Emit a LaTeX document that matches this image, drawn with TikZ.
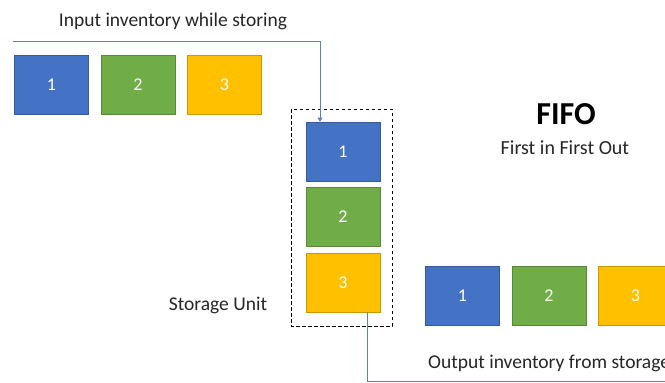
\documentclass[tikz,border=0pt]{standalone}
\usepackage{fontspec}
\setmainfont{Carlito}
\usetikzlibrary{arrows.meta}
\definecolor{boxblue}{HTML}{4472C4}
\definecolor{boxgreen}{HTML}{70AD47}
\definecolor{boxyellow}{HTML}{FFC000}
\definecolor{lineblue}{HTML}{5B7FC4}
\definecolor{txt}{HTML}{262626}
\tikzset{
  item/.style={draw=#1!80!black, fill=#1, line width=0.6pt, minimum width=74pt,
    minimum height=59pt, inner sep=0pt, text=white, font=\fontsize{18}{20}\selectfont},
  label/.style={text=txt, inner sep=0pt, font=\fontsize{19.5}{22}\selectfont},
  flow/.style={draw=lineblue, line width=0.6pt},
}
\begin{document}
\begin{tikzpicture}[x=1pt,y=-1pt]
\useasboundingbox (0,0) rectangle (665,383);
\clip (0,0) rectangle (665,383);
% incoming row
\node[item=boxblue]   (in1) at (51.5,85) {1};
\node[item=boxgreen]  (in2) at (138,85) {2};
\node[item=boxyellow] (in3) at (224.5,85) {3};
\node[label] (intitle) at (173,21) {Input inventory while storing};
% storage stack
\node[item=boxblue]   (s1) at (343,151.5) {1};
\node[item=boxgreen]  (s2) at (343,217) {2};
\node[item=boxyellow] (s3) at (343,282.5) {3};
\draw[dashed, line width=0.9pt, dash pattern=on 3.5pt off 2.5pt] (291,109) rectangle (392,326);
\node[label] (unit) at (218,305) {Storage Unit};
% outgoing row
\node[item=boxblue]   (out1) at (462.5,296) {1};
\node[item=boxgreen]  (out2) at (549,296) {2};
\node[item=boxyellow] (out3) at (635.5,296) {3};
\node[label, anchor=west] (outtitle) at (428,363) {Output inventory from storage};
% title
\node[inner sep=0pt, text=black, font=\fontsize{32}{36}\selectfont\bfseries] (fifo) at (566,114) {FIFO};
\node[label, font=\fontsize{20}{24}\selectfont] (fifosub) at (565,148) {First in First Out};
% connectors
\coordinate (instart) at (13,41);
\coordinate (outend) at (665,381.5);
\draw[flow, -{Triangle[width=5pt,length=4pt]}] (instart) -| (s1.north -| 320,0);
\draw[flow] (s3.south -| 367,0) |- (outend);
\end{tikzpicture}
\end{document}
